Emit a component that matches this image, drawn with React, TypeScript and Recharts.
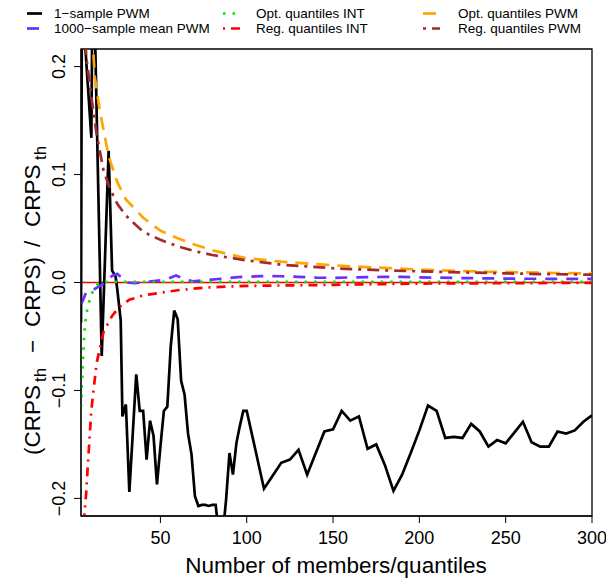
import React from "react";
import {
  LineChart,
  Line,
  XAxis,
  YAxis,
  ReferenceLine,
  ReferenceArea,
} from "recharts";

// ---- data ----
const onePwmX = [
  4, 5, 6, 10, 11, 12, 16, 20, 22, 24, 25, 27, 28, 30, 32, 36, 38, 40, 42, 44,
  46, 48, 50, 52, 54, 56, 58, 60, 62, 64, 66, 68, 70, 72, 74, 76, 78, 80, 82, 84,
  86, 88, 90, 92, 94, 96, 98, 100, 105, 110, 115, 120, 125, 130, 135, 140, 145,
  150, 155, 160, 165, 170, 175, 180, 185, 190, 195, 200, 205, 210, 215, 220, 225,
  230, 235, 240, 245, 250, 255, 260, 265, 270, 275, 280, 285, 290, 295, 300,
];
const onePwmY = [
  -0.037, 0.55, 0.23, 0.134, 0.35, 0.24, -0.068, 0.122, 0.011, 0.006,
  -0.006, -0.035, -0.124, -0.113, -0.194, -0.085, -0.119, -0.119, -0.164, -0.128,
  -0.142, -0.187, -0.152, -0.119, -0.115, -0.059, -0.026, -0.034, -0.091, -0.104,
  -0.14, -0.159, -0.198, -0.207, -0.206, -0.206, -0.207, -0.206, -0.206, -0.235,
  -0.235, -0.202, -0.158, -0.178, -0.149, -0.133, -0.119, -0.119,
  -0.155, -0.191, -0.179, -0.167, -0.164, -0.155, -0.178, -0.158, -0.138, -0.136,
  -0.119, -0.128, -0.124, -0.154, -0.15, -0.169, -0.193, -0.178, -0.158, -0.137,
  -0.114, -0.119, -0.144, -0.143, -0.144, -0.131, -0.138, -0.152, -0.146, -0.149,
  -0.139, -0.129, -0.148, -0.152, -0.152, -0.138, -0.14, -0.137, -0.129, -0.123,
];

const meanPwmX = [
  4, 5, 7, 10, 12, 14, 17, 19, 22, 25, 28, 31, 35, 40, 45, 50, 55, 59, 64, 69,
  75, 85, 95, 110, 120, 130, 140, 150, 160, 170, 180, 190, 200, 220, 240, 260,
  280, 300,
];
const meanPwmY = [
  -0.02, -0.017, -0.009, -0.0065, -0.006, -0.004, -0.001, 0.002, 0.006, 0.008,
  0.004, 0.0, -0.0005, 0.0, 0.001, 0.002, 0.004, 0.0065, 0.003, 0.001,
  0.002, 0.0035, 0.005, 0.006, 0.0058, 0.0053, 0.0046, 0.0043, 0.0047, 0.005,
  0.0052, 0.0052, 0.0048, 0.0042, 0.0038, 0.0035, 0.0034, 0.0034,
];

const optIntX = [4, 5, 6, 7, 8, 10, 12, 14, 18, 25, 50, 100, 150, 200, 250, 300];
const optIntY = [
  -0.115, -0.075, -0.045, -0.03, -0.022, -0.011, -0.005, -0.001, 0.0005, 0.0005,
  0.0005, 0.0005, 0.0005, 0.0005, 0.0005, 0.0005,
];

const regIntX = [
  4, 5, 6, 7, 8, 10, 13, 17, 22, 26, 32, 40, 50, 60, 75, 90, 110, 130, 160, 200,
  240, 300,
];
const regIntY = [
  -0.4, -0.3, -0.215, -0.195, -0.168, -0.118, -0.075, -0.046, -0.031, -0.023,
  -0.016, -0.012, -0.0095, -0.0072, -0.0048, -0.0036, -0.0029, -0.0026, -0.0019,
  -0.001, -0.0007, -0.0003,
];

const optPwmX = [
  4, 6, 8, 10, 12, 15, 17, 20, 25, 30, 40, 50, 60, 70, 80, 90, 100, 120, 140,
  160, 180, 200, 220, 240, 260, 280, 300,
];
const optPwmY = [
  0.6, 0.42, 0.31, 0.245, 0.19, 0.158, 0.142, 0.117, 0.093, 0.077, 0.06, 0.048,
  0.041, 0.035, 0.03, 0.026, 0.0225, 0.0193, 0.017, 0.015, 0.0135, 0.012, 0.0108,
  0.0099, 0.0094, 0.0088, 0.0082,
];

const regPwmX = [
  4, 5, 7, 10, 13, 17, 21, 25, 30, 40, 50, 60, 70, 80, 100, 120, 150, 180, 210,
  240, 270, 300,
];
const regPwmY = [
  0.33, 0.27, 0.21, 0.172, 0.138, 0.104, 0.086, 0.073, 0.062, 0.047, 0.0395,
  0.0335, 0.029, 0.0255, 0.0205, 0.0165, 0.0132, 0.0112, 0.0099, 0.0088, 0.0078,
  0.0073,
];

const xTicks = [50, 100, 150, 200, 250, 300];
const yTicks = [-0.2, -0.1, 0, 0.1, 0.2];

const X_MIN = 4;
const X_MAX = 300;
const Y_LIM = 0.2163;
const FONT = '"Liberation Sans", Arial, Helvetica, sans-serif';

const toPoints = (xs: number[], ys: number[]) =>
  xs.map((x, i) => ({ x, y: ys[i] }));

const SERIES = [
  { name: "1\u2212sample PWM", pts: toPoints(onePwmX, onePwmY), color: "#000000", dash: undefined, width: 2.7 },
  { name: "1000\u2212sample mean PWM", pts: toPoints(meanPwmX, meanPwmY), color: "#6B2FFF", dash: "12 9", width: 2.7 },
  { name: "Opt. quantiles INT", pts: toPoints(optIntX, optIntY), color: "#00E600", dash: "2.5 7", width: 2.7 },
  { name: "Reg. quantiles INT", pts: toPoints(regIntX, regIntY), color: "#FF0000", dash: "2 6 9 6", width: 2.7 },
  { name: "Opt. quantiles PWM", pts: toPoints(optPwmX, optPwmY), color: "#FFA500", dash: "13 8", width: 2.7 },
  { name: "Reg. quantiles PWM", pts: toPoints(regPwmX, regPwmY), color: "#A52A2A", dash: "3 6 12 6", width: 2.7 },
];

const fmtY = (v: number) => v.toFixed(1).replace("-", "\u2212");

function YTick(props: any) {
  const { y, payload } = props;
  return (
    <text
      transform={`translate(65,${y}) rotate(-90)`}
      textAnchor="middle"
      fontSize={18}
      fill="#000"
    >
      {fmtY(payload.value)}
    </text>
  );
}

function XTick(props: any) {
  const { x, payload } = props;
  return (
    <text x={x} y={544} textAnchor="middle" fontSize={18} fill="#000">
      {payload.value}
    </text>
  );
}

// legend slots: [lineStart, lineEnd, textX, rowY]
const LEGEND_POS = [
  [27, 42, 54, 13.5],
  [27, 42, 54, 28.5],
  [223, 242, 256, 13.5],
  [223, 242, 256, 28.5],
  [423, 440, 458, 13.5],
  [423, 440, 458, 28.5],
];

function Overlay() {
  return (
    <svg
      width={606}
      height={580}
      style={{ position: "absolute", left: 0, top: 0, pointerEvents: "none" }}
      fontFamily={FONT}
    >
      {SERIES.map((s, i) => {
        const [x1, x2, tx, ry] = LEGEND_POS[i];
        return (
          <g key={s.name}>
            <line
              x1={x1}
              x2={x2}
              y1={ry}
              y2={ry}
              stroke={s.color}
              strokeWidth={2.7}
              strokeDasharray={s.dash}
            />
            <text x={tx} y={ry + 4.8} fontSize={13.5} fill="#000">
              {s.name}
            </text>
          </g>
        );
      })}

      {/* x axis title */}
      <text x={336} y={573} textAnchor="middle" fontSize={22.5} fill="#000">
        Number of members/quantiles
      </text>

      {/* y axis title, plotmath-like layout */}
      <g transform="translate(40,455) rotate(-90)" fill="#000" fontSize={22.5}>
        <text x={0} y={0}>(CRPS</text>
        <text x={73} y={6} fontSize={17}>th</text>
        <text x={102} y={0}>{"\u2212"}</text>
        <text x={128} y={0}>CRPS)</text>
        <text x={208} y={0}>/</text>
        <text x={228} y={0}>CRPS</text>
        <text x={295} y={6} fontSize={17}>th</text>
      </g>
    </svg>
  );
}

export default function App() {
  return (
    <div
      style={{
        position: "absolute",
        left: 0,
        top: 0,
        width: 606,
        height: 580,
        background: "#fff",
        fontFamily: FONT,
      }}
    >
      <LineChart
        width={606}
        height={580}
        margin={{ top: 49, right: 14, bottom: 0, left: 0 }}
      >
        <XAxis
          dataKey="x"
          type="number"
          domain={[X_MIN, X_MAX]}
          ticks={xTicks}
          allowDataOverflow
          height={64}
          tickSize={7}
          tick={<XTick />}
          tickLine={{ stroke: "#000" }}
          axisLine={{ stroke: "#000" }}
        />
        <YAxis
          type="number"
          domain={[-Y_LIM, Y_LIM]}
          ticks={yTicks}
          allowDataOverflow
          width={81}
          tickSize={7}
          tick={<YTick />}
          tickLine={{ stroke: "#000" }}
          axisLine={{ stroke: "#000" }}
        />
        <ReferenceLine y={0} stroke="#FF0000" strokeWidth={1.5} />
        {SERIES.map((s) => (
          <Line
            key={s.name}
            data={s.pts}
            dataKey="y"
            type="linear"
            stroke={s.color}
            strokeWidth={s.width}
            strokeDasharray={s.dash}
            dot={false}
            activeDot={false}
            isAnimationActive={false}
          />
        ))}
        <ReferenceArea
          x1={X_MIN}
          x2={X_MAX}
          y1={-Y_LIM}
          y2={Y_LIM}
          fill="none"
          stroke="#000"
          strokeWidth={1.3}
          ifOverflow="visible"
        />
      </LineChart>
      <Overlay />
    </div>
  );
}
